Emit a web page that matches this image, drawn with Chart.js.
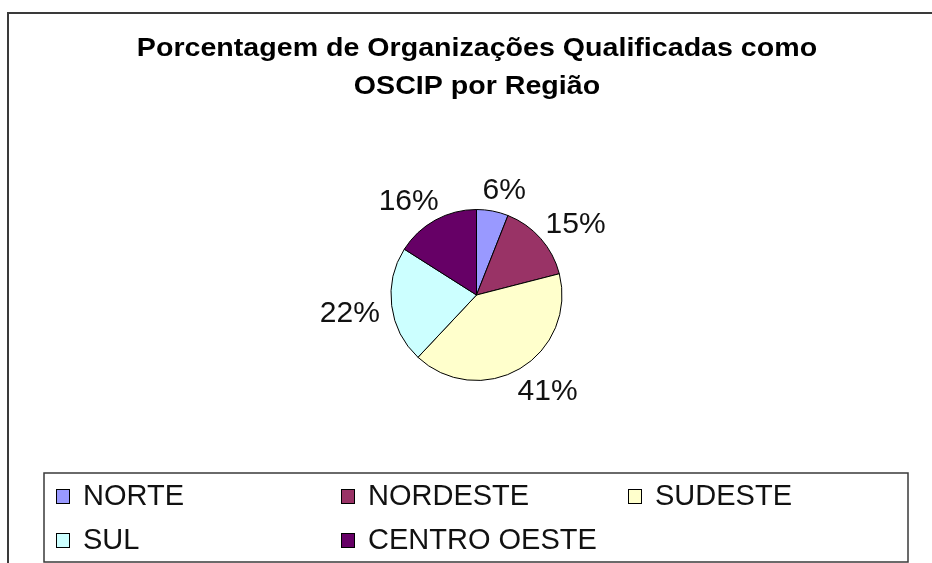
<!DOCTYPE html>
<html>
<head>
<meta charset="utf-8">
<script src="https://cdn.jsdelivr.net/npm/chart.js@4"></script>
<style>
  html, body { margin: 0; padding: 0; background: #fff; }
  canvas { display: block; }
</style>
</head>
<body>
<canvas id="oscip-chart" width="932" height="563"></canvas>
<script>
// dados
const regioes = ['NORTE', 'NORDESTE', 'SUDESTE', 'SUL', 'CENTRO OESTE'];
const percentuais = [6, 15, 41, 22, 16];
const cores = ['#9999FF', '#993366', '#FFFFCC', '#CCFFFF', '#660066'];
const tituloLinhas = ['Porcentagem de Organizações Qualificadas como', 'OSCIP por Região'];

const FONTE = '"Liberation Sans", Arial, sans-serif';

// fundo, moldura e título
const molduraPlugin = {
    id: 'moldura',
    beforeDraw: function (chart) {
        const ctx = chart.ctx;
        ctx.save();
        ctx.fillStyle = '#fff';
        ctx.fillRect(0, 0, chart.width, chart.height);
        ctx.strokeStyle = '#3a3a3a';
        ctx.lineWidth = 2;
        ctx.strokeRect(8, 13, chart.width + 50, chart.height + 50);

        // o título do original é um pouco mais largo que Arial
        ctx.translate(477, 0);
        ctx.scale(1.1, 1);
        ctx.fillStyle = '#000';
        ctx.font = 'bold 26px ' + FONTE;
        ctx.textAlign = 'center';
        ctx.textBaseline = 'alphabetic';
        ctx.fillText(tituloLinhas[0], 0, 56);
        ctx.fillText(tituloLinhas[1], 0, 94);
        ctx.restore();
    }
};

// rótulos de porcentagem fora das fatias
const rotulosPlugin = {
    id: 'rotulos',
    afterDatasetsDraw: function (chart) {
        const ctx = chart.ctx;
        const meta = chart.getDatasetMeta(0);
        const dados = chart.data.datasets[0].data;
        const tam = 30;
        const suave = function (v) { return Math.sign(v) * Math.sqrt(Math.abs(v)); };
        ctx.save();
        ctx.font = tam + 'px ' + FONTE;
        ctx.fillStyle = '#111';
        ctx.textAlign = 'center';
        ctx.textBaseline = 'alphabetic';
        meta.data.forEach(function (arc, i) {
            const p = arc.getProps(['x', 'y', 'startAngle', 'endAngle', 'outerRadius'], true);
            const meio = (p.startAngle + p.endAngle) / 2;
            const texto = dados[i] + '%';
            const w = ctx.measureText(texto).width;
            const h = tam * 0.72;
            const R = p.outerRadius + 12;
            const cx = p.x + Math.cos(meio) * R + suave(Math.cos(meio)) * w / 2;
            const cy = p.y + Math.sin(meio) * R + suave(Math.sin(meio)) * h / 2;
            ctx.fillText(texto, cx, cy + h / 2);
        });
        ctx.restore();
    }
};

// legenda em caixa, duas linhas de três colunas
const legendaPlugin = {
    id: 'legenda',
    afterDraw: function (chart) {
        const ctx = chart.ctx;
        const ds = chart.data.datasets[0];
        const colunas = [56, 341, 628];
        const linhas = [505, 549];
        ctx.save();
        ctx.strokeStyle = '#3a3a3a';
        ctx.lineWidth = 1.5;
        ctx.strokeRect(44, 473, 864, 89);

        ctx.font = '29px ' + FONTE;
        ctx.textAlign = 'left';
        ctx.textBaseline = 'alphabetic';
        chart.data.labels.forEach(function (rotulo, i) {
            const x = colunas[i % 3];
            const y = linhas[Math.floor(i / 3)];
            ctx.fillStyle = ds.backgroundColor[i];
            ctx.fillRect(x, y - 16, 14, 15);
            ctx.strokeStyle = '#000';
            ctx.lineWidth = 1;
            ctx.strokeRect(x + 0.5, y - 15.5, 13, 14);
            ctx.fillStyle = '#111';
            ctx.fillText(rotulo, x + 27, y);
        });
        ctx.restore();
    }
};

new Chart(document.getElementById('oscip-chart'), {
    type: 'pie',
    data: {
        labels: regioes,
        datasets: [{
            data: percentuais,
            backgroundColor: cores,
            borderColor: '#000',
            borderWidth: 1,
            hoverOffset: 0
        }]
    },
    options: {
        responsive: false,
        animation: false,
        devicePixelRatio: 1,
        layout: {
            padding: { top: 209, bottom: 182, left: 21, right: 0 }
        },
        plugins: {
            legend: { display: false },
            title: { display: false },
            tooltip: { enabled: false }
        }
    },
    plugins: [molduraPlugin, rotulosPlugin, legendaPlugin]
});
</script>
</body>
</html>
